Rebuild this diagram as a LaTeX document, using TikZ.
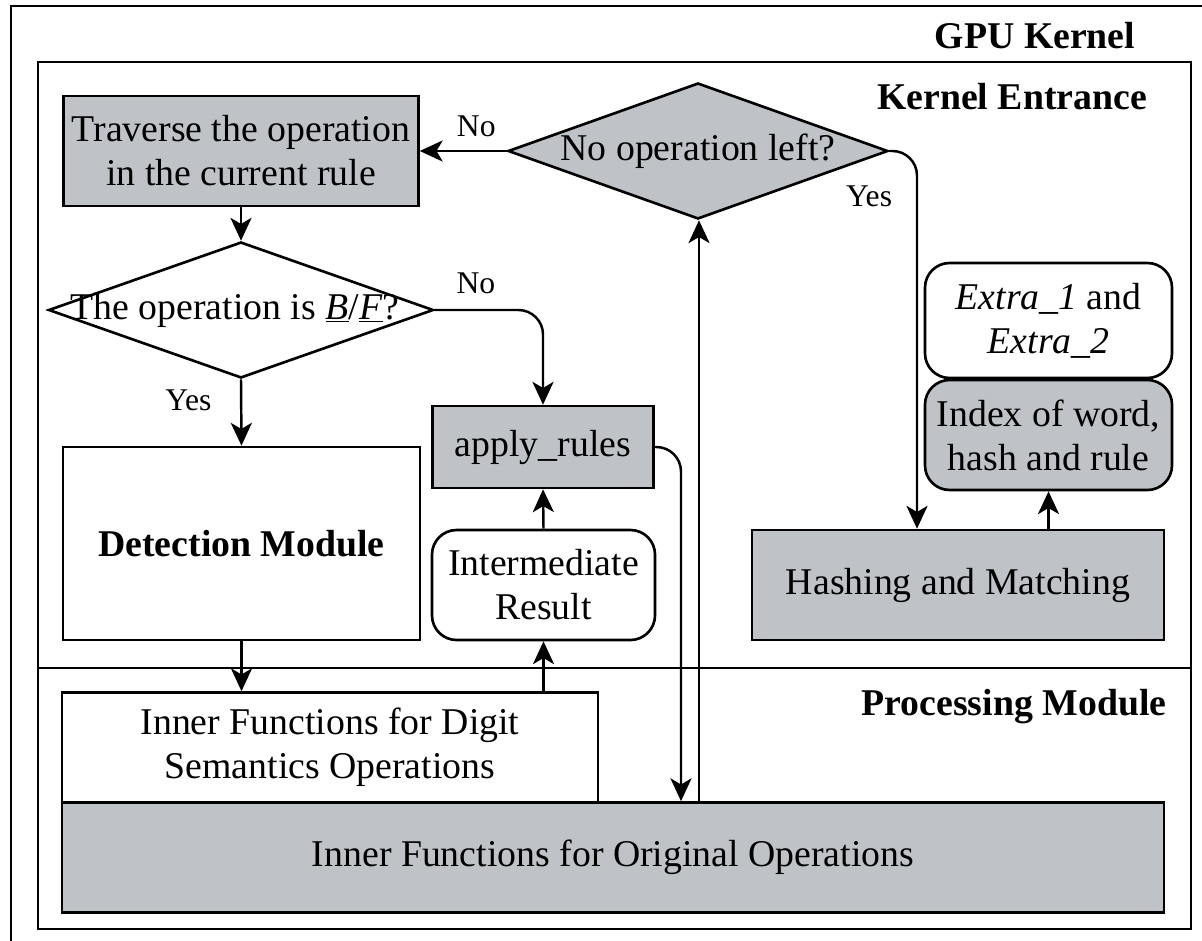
\documentclass[tikz,border=0pt]{standalone}
\usepackage{fontspec}
\setmainfont{Liberation Serif}
\usepackage{tikz}
\usetikzlibrary{arrows.meta,shapes.geometric,positioning}
\definecolor{boxgray}{RGB}{191,195,199}

\begin{document}
\begin{tikzpicture}[x=0.02cm,y=-0.02cm,
        every node/.style={font=\fontsize{21.5}{25}\selectfont},
        blk/.style={draw,line width=1.5pt,inner sep=0pt,align=center},
        dia/.style={draw,diamond,line width=1.5pt,inner sep=0pt},
        arr/.style={line width=1.4pt,-{Stealth[length=13pt,width=12pt,inset=3.5pt]}},
        lbl/.style={font=\fontsize{18}{20}\selectfont,inner sep=2pt}]
        \useasboundingbox (0,0) rectangle (1202,940);
        % frames
        \draw[line width=1.4pt] (11,6) rectangle (1230,980);
        \draw[line width=1.4pt] (38,62) rectangle (1191,929);
        \draw[line width=1.4pt] (38,668) -- (1191,668);
        \node[font=\fontsize{21.5}{25}\selectfont\bfseries] (gpu) at (1035,36) {GPU Kernel};
        \node[font=\fontsize{21.5}{25}\selectfont\bfseries] (entr) at (1012,97) {Kernel Entrance};
        \node[font=\fontsize{21.5}{25}\selectfont\bfseries] (proc) at (1014,707) {Processing Module};

        % kernel entrance
        \node[blk,fill=boxgray,minimum width=355*0.02cm,minimum height=110*0.02cm] (trav) at (241,151) {Traverse the operation\\in the current rule};
        \node[dia,minimum width=385*0.02cm,minimum height=136*0.02cm,label={[xshift=-0.12cm]center:The operation is \underline{\textit{B}}/\underline{\textit{F}}?}] (bf) at (241,310) {};
        \node[blk,minimum width=357*0.02cm,minimum height=193*0.02cm,font=\fontsize{21.5}{25}\selectfont\bfseries] (det) at (241.5,543.5) {Detection Module};
        \node[blk,fill=boxgray,minimum width=221*0.02cm,minimum height=82*0.02cm] (apply) at (543,447) {apply\_rules};
        \node[blk,rounded corners=14pt,minimum width=223*0.02cm,minimum height=110*0.02cm] (inter) at (543.5,585) {Intermediate\\Result};
        \node[dia,fill=boxgray,minimum width=380*0.02cm,minimum height=136*0.02cm,label=center:{No operation left?}] (left) at (698,151) {};
        \node[blk,rounded corners=14pt,minimum width=247*0.02cm,minimum height=115*0.02cm] (extra) at (1048.5,320.5) {\textit{Extra\_1} and\\\textit{Extra\_2}};
        \node[blk,fill=boxgray,rounded corners=14pt,minimum width=247*0.02cm,minimum height=110*0.02cm] (index) at (1048.5,435) {Index of word,\\hash and rule};
        \node[blk,fill=boxgray,minimum width=412*0.02cm,minimum height=110*0.02cm] (hash) at (958,585) {Hashing and Matching};

        % processing module
        \node[blk,minimum width=536*0.02cm,minimum height=110*0.02cm] (digit) at (330,747.5) {Inner Functions for Digit\\Semantics Operations};
        \node[blk,fill=boxgray,minimum width=1102*0.02cm,minimum height=110*0.02cm] (orig) at (613,857.5) {Inner Functions for Original Operations};

        % connectors
        \draw[arr] (trav.south) -- (bf.north);
        \draw[arr] (bf.south) -- node[lbl,pos=0.32,left=0.5cm] {Yes} (det.north);
        \draw[arr,rounded corners=14pt] (bf.east) -| node[lbl,pos=0.19,above=0.22cm] {No} (apply.north);
        \draw[arr] (det.south) -- (det.south |- digit.north);
        \draw[arr] (inter.south |- digit.north) -- (inter.south);
        \draw[arr] (inter.north) -- (apply.south);
        \draw[arr,rounded corners=14pt] (apply.east) -| (681,0 |- orig.north);
        \draw[arr] (699,0 |- orig.north) -- (699,0 |- left.south);
        \draw[arr] (left.west) -- node[lbl,pos=0.35,above=0.18cm] {No} (left.west -| trav.east);
        \draw[arr,rounded corners=14pt] (left.east) -| node[lbl,pos=0,anchor=north east,xshift=0.15cm,yshift=-0.6cm] {Yes} (917,0 |- hash.north);
        \draw[arr] (index.south |- hash.north) -- (index.south);
\end{tikzpicture}
\end{document}
